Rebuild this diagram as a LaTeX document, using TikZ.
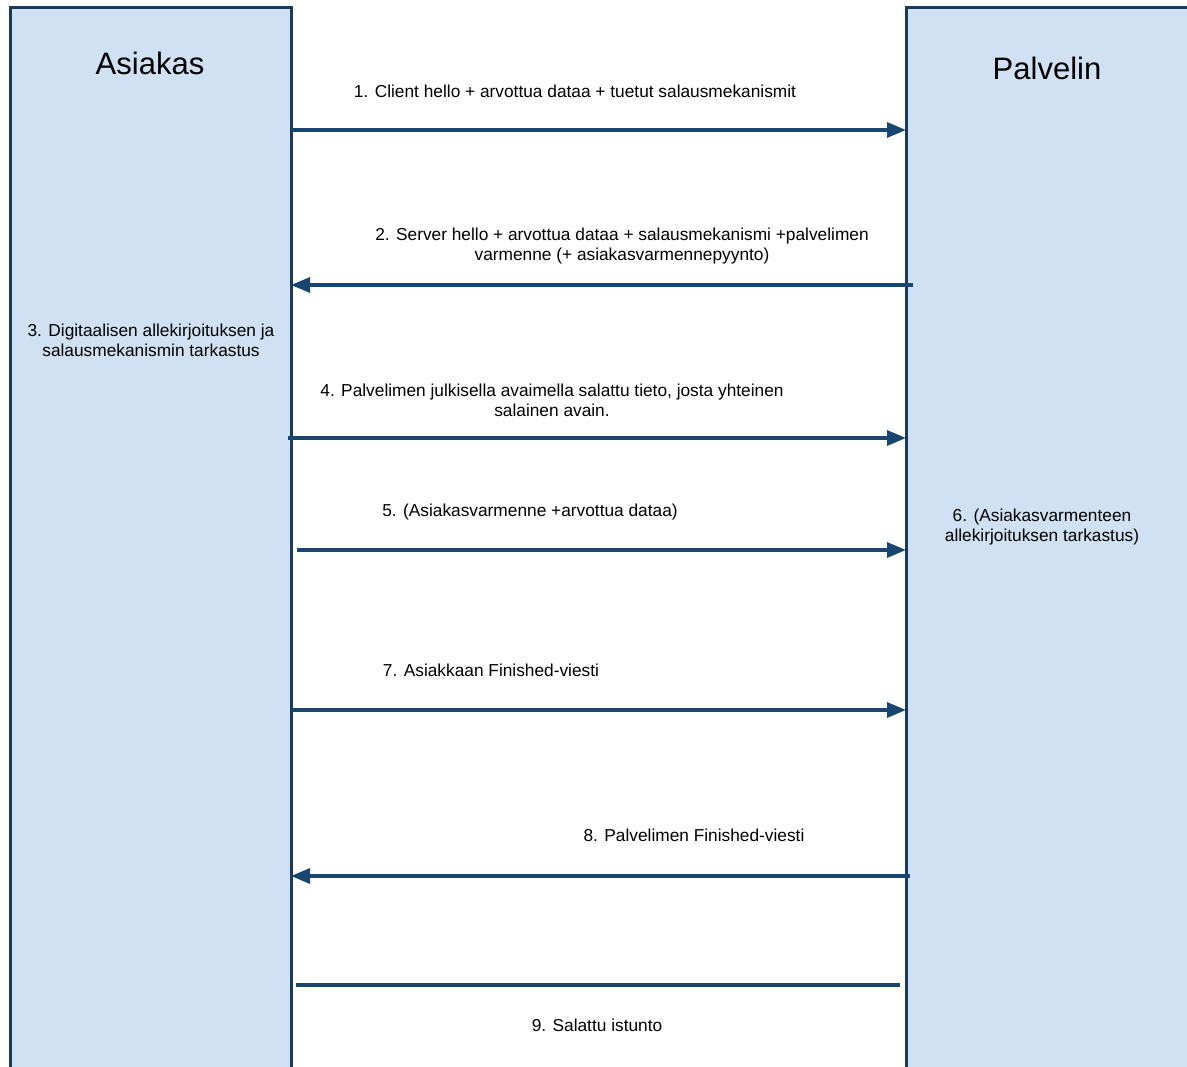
\documentclass[tikz,border=0pt]{standalone}
\usepackage{fontspec}
\setmainfont{Liberation Sans}
\usetikzlibrary{arrows.meta}
\definecolor{lanefill}{RGB}{207,225,242}
\definecolor{laneedge}{RGB}{24,58,92}
\definecolor{msgcol}{RGB}{25,70,112}

\begin{document}
\begin{tikzpicture}
[x=1pt,y=-1pt,>={Triangle[length=19pt,width=15pt]}]\tikzstyle{lane}
=[draw=laneedge,line width=3pt]
\tikzstyle{msg}=[draw=msgcol,line width=3.2pt]
\tikzstyle{txt}=[font=\fontsize{17.3}{20}\selectfont,align=center,inner sep=0pt]
\tikzstyle{head}=[font=\fontsize{31}{36}\selectfont,inner sep=0pt]

\useasboundingbox (0,0) rectangle (1187,1067);
\clip (0,0) rectangle (1187,1067);
\fill[white] (0,0) rectangle (1187,1067);

% swimlanes
\fill[lanefill] (10,8) rectangle (291,1090);
\fill[lanefill] (906,8) rectangle (1200,1090);
\draw[lane] (10,1090) -- (10,8) -- (291,8) -- (291,1090);
\draw[lane] (1200,8) -- (906,8) -- (906,1090);
\node[head] (asiakas) at (150,63) {Asiakas};
\node[head] (palvelin) at (1047,68) {Palvelin};

% end points on the lifelines
\coordinate (a1) at (291,130);  \coordinate (p1) at (906,130);
\coordinate (p2) at (913,285);  \coordinate (a2) at (291,285);
\coordinate (a4) at (288,438);  \coordinate (p4) at (906,438);
\coordinate (a5) at (297,550);  \coordinate (p5) at (906,550);
\coordinate (a7) at (291,710);  \coordinate (p7) at (906,710);
\coordinate (p8) at (910,876);  \coordinate (a8) at (291,876);
\coordinate (a9) at (296,985);  \coordinate (p9) at (900,985);

\node[txt] (m1) at (575,91) {1. Client hello + arvottua dataa + tuetut salausmekanismit};
\node[txt] (m2) at (622,246) {2. Server hello + arvottua dataa + salausmekanismi +palvelimen\\varmenne (+ asiakasvarmennepyynto)};
\node[txt] (m3) at (151,340) {3. Digitaalisen allekirjoituksen ja\\salausmekanismin tarkastus};
\node[txt] (m4) at (552,400) {4. Palvelimen julkisella avaimella salattu tieto, josta yhteinen\\salainen avain.};
\node[txt] (m5) at (530,512) {5. (Asiakasvarmenne +arvottua dataa)};
\node[txt] (m6) at (1042,527) {6. (Asiakasvarmenteen\\allekirjoituksen tarkastus)};
\node[txt] (m7) at (491,670) {7. Asiakkaan Finished-viesti};
\node[txt] (m8) at (694,835) {8. Palvelimen Finished-viesti};
\node[txt] (m9) at (597,1025) {9. Salattu istunto};

\draw[msg,->] (a1) -- (p1);
\draw[msg,->] (p2) -- (a2);
\draw[msg,->] (a4) -- (p4);
\draw[msg,->] (a5) -- (p5);
\draw[msg,->] (a7) -- (p7);
\draw[msg,->] (p8) -- (a8);
\draw[msg] (a9) -- (p9);
\end{tikzpicture}
\end{document}
